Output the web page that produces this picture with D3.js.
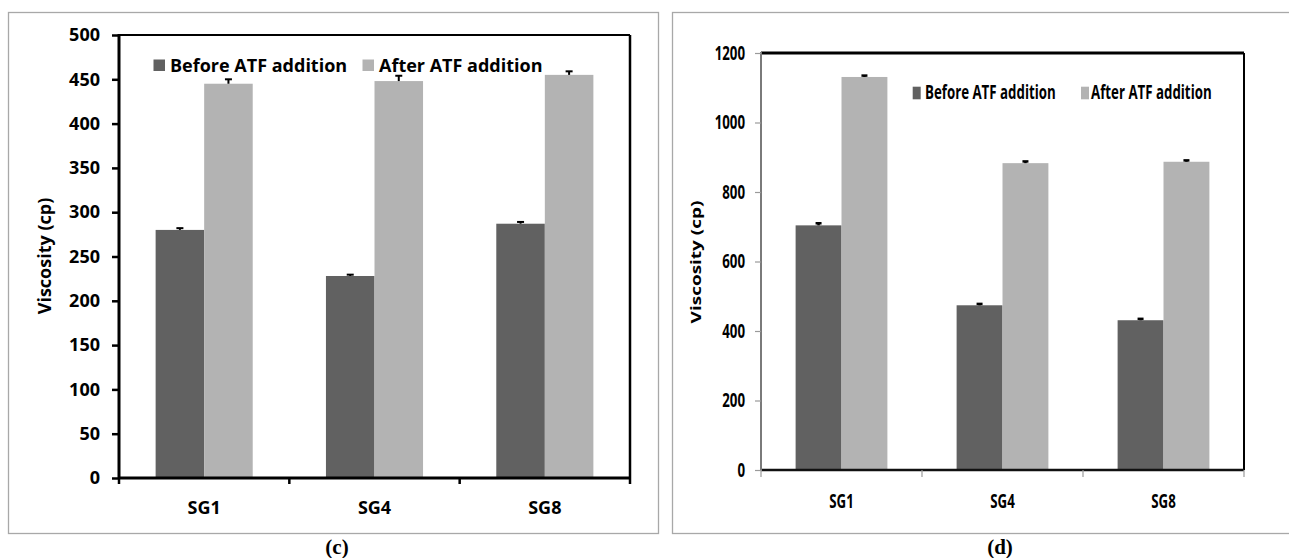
<!DOCTYPE html>
<html>
<head>
<meta charset="utf-8">
<script src="https://cdn.jsdelivr.net/npm/d3@7"></script>
<style>
  body { margin: 0; background: #fff; }
  svg { display: block; }
</style>
</head>
<body>
<svg id="fig" width="1289" height="558"></svg>
<script>
// Shared categories and series
const categories = ["SG1", "SG4", "SG8"];
const seriesNames = ["Before ATF addition", "After ATF addition"];
const seriesColors = ["#616161", "#b3b3b3"];

// Panel (c): viscosity in cp, with error margins
const beforeC = [280, 228, 287];
const afterC = [445, 448, 455];
const beforeErrC = [2, 1.5, 2];
const afterErrC = [5, 6, 4];
const ticksC = [0, 50, 100, 150, 200, 250, 300, 350, 400, 450, 500];

// Panel (d): viscosity in cp, with error margins
const beforeD = [704, 474, 431];
const afterD = [1131, 883, 887];
const beforeErrD = [6, 4, 4];
const afterErrD = [4, 5, 4];
const ticksD = [0, 200, 400, 600, 800, 1000, 1200];

const FONT = "'Open Sans', 'Noto Sans', sans-serif";
const svg = d3.select("#fig");

// Places a text element inside a group that can squeeze glyphs horizontally
function addText(parent, x, y, str, o) {
  const g = parent.append("g")
    .attr("transform", `translate(${x},${y}) scale(${o.sx || 1},1)` + (o.rotate ? ` rotate(${o.rotate})` : ""));
  return g.append("text")
    .attr("text-anchor", o.anchor || "start")
    .attr("dy", o.dy || 0)
    .attr("font-family", o.family || FONT)
    .attr("font-weight", o.weight || 700)
    .attr("font-size", o.size)
    .attr("fill", "#000")
    .text(str);
}

function drawPanel(p) {
  const g = svg.append("g");
  const sx = p.sx;

  // frame around the panel
  g.append("rect")
    .attr("x", p.frame[0]).attr("y", p.frame[1])
    .attr("width", p.frame[2]).attr("height", p.frame[3])
    .attr("fill", "none").attr("stroke", "#a8a8a8").attr("stroke-width", 1.3);

  const x = d3.scaleBand().domain(categories)
    .range([p.left, p.right]).paddingInner(p.pad).paddingOuter(p.pad / 2);
  const xs = d3.scaleBand().domain([0, 1]).range([0, x.bandwidth()]);
  const y = d3.scaleLinear().domain([0, p.max]).range([p.bottom, p.top]);

  const rows = categories.map((c, i) => ({
    c,
    vals: [p.before[i], p.after[i]],
    errs: [p.beforeErr[i], p.afterErr[i]]
  }));
  const marks = rows.flatMap(r => r.vals.map((v, k) => ({ c: r.c, k, v, e: r.errs[k] })));

  // bars
  g.append("g").selectAll("rect").data(marks).join("rect")
    .attr("x", d => x(d.c) + xs(d.k))
    .attr("y", d => y(d.v))
    .attr("width", xs.bandwidth())
    .attr("height", d => y(0) - y(d.v))
    .attr("fill", d => seriesColors[d.k]);

  // upper error bars
  const eb = g.append("g").attr("stroke", "#000").attr("stroke-width", p.errWidth);
  eb.selectAll("line.v").data(marks).join("line").attr("class", "v")
    .attr("x1", d => x(d.c) + xs(d.k) + xs.bandwidth() / 2)
    .attr("x2", d => x(d.c) + xs(d.k) + xs.bandwidth() / 2)
    .attr("y1", d => y(d.v)).attr("y2", d => y(d.v + d.e));
  eb.selectAll("line.cap").data(marks).join("line").attr("class", "cap")
    .attr("x1", d => x(d.c) + xs(d.k) + xs.bandwidth() / 2 - p.capW / 2)
    .attr("x2", d => x(d.c) + xs(d.k) + xs.bandwidth() / 2 + p.capW / 2)
    .attr("y1", d => y(d.v + d.e)).attr("y2", d => y(d.v + d.e));

  // plot-area border
  const line = (x1, y1, x2, y2, s) => g.append("line")
    .attr("x1", x1).attr("y1", y1).attr("x2", x2).attr("y2", y2)
    .attr("stroke", s.c).attr("stroke-width", s.w);
  line(p.left, p.top, p.right, p.top, p.border.top);
  line(p.right, p.top, p.right, p.bottom, p.border.right);
  line(p.left, p.bottom, p.right, p.bottom, p.border.bottom);
  line(p.left, p.top - 1, p.left, p.bottom + 1, p.border.left);

  // value axis
  const yAxis = g.append("g").attr("transform", `translate(${p.left},0)`)
    .call(d3.axisLeft(y).tickValues(p.ticks).tickSize(p.tickLen).tickPadding(p.labelGap - p.tickLen)
      .tickFormat(d3.format("d")));
  yAxis.select(".domain").remove();
  yAxis.selectAll(".tick line").attr("stroke", p.tickColor).attr("stroke-width", p.tickWidth);
  yAxis.selectAll(".tick text")
    .attr("font-family", FONT).attr("font-weight", 700).attr("font-size", p.fontSize)
    .attr("fill", "#000")
    .attr("x", -p.labelGap / sx)
    .attr("transform", `scale(${sx},1)`);

  // category boundary ticks
  const step = x.step();
  g.append("g").selectAll("line").data(d3.range(categories.length + 1)).join("line")
    .attr("x1", i => p.left + i * step).attr("x2", i => p.left + i * step)
    .attr("y1", p.bottom).attr("y2", p.bottom + p.xTickLen)
    .attr("stroke", p.tickColor).attr("stroke-width", p.tickWidth);

  // category labels
  const xAxis = g.append("g").attr("transform", `translate(0,${p.bottom})`)
    .call(d3.axisBottom(x).tickSize(0).tickPadding(0));
  xAxis.select(".domain").remove();
  xAxis.selectAll(".tick text")
    .attr("font-family", FONT).attr("font-weight", 700).attr("font-size", p.fontSize)
    .attr("fill", "#000")
    .attr("y", p.xLabelBase).attr("dy", 0)
    .attr("transform", `scale(${sx},1)`);

  // axis title
  addText(g, p.yTitle[0], p.yTitle[1], "Viscosity (cp)",
    { sx, rotate: -90, anchor: "middle", dy: "0.35em", size: p.titleSize });

  // legend
  seriesNames.forEach((name, k) => {
    const L = p.legend[k];
    g.append("rect").attr("x", L.sq[0]).attr("y", L.sq[1])
      .attr("width", L.sq[2]).attr("height", L.sq[3]).attr("fill", seriesColors[k]);
    addText(g, L.tx, p.legendBase, name, { sx, size: p.fontSize });
  });

  // panel caption
  addText(g, p.caption[0], p.caption[1], p.captionText,
    { anchor: "middle", size: 21, family: "'Liberation Serif', 'Times New Roman', serif" });
}

drawPanel({
  frame: [8.5, 12.5, 650, 521],
  left: 119, right: 630, top: 35, bottom: 478,
  max: 500, ticks: ticksC, pad: 0.43,
  before: beforeC, after: afterC, beforeErr: beforeErrC, afterErr: afterErrC,
  sx: 1, fontSize: 18, titleSize: 18,
  tickLen: 7, xTickLen: 6, labelGap: 19, tickColor: "#000", tickWidth: 2.5,
  border: {
    top: { c: "#000", w: 2.2 }, right: { c: "#000", w: 2.5 },
    bottom: { c: "#000", w: 3 }, left: { c: "#000", w: 3 }
  },
  errWidth: 2, capW: 7,
  xLabelBase: 35.5,
  yTitle: [45, 256],
  legend: [
    { sq: [153.5, 59.5, 11.5, 11.5], tx: 170 },
    { sq: [362.5, 59.5, 11.5, 11.5], tx: 379 }
  ],
  legendBase: 71.5,
  caption: [337, 554], captionText: "(c)"
});

drawPanel({
  frame: [672.5, 12.5, 630, 521],
  left: 761, right: 1244, top: 53, bottom: 470,
  max: 1200, ticks: ticksD, pad: 0.43,
  before: beforeD, after: afterD, beforeErr: beforeErrD, afterErr: afterErrD,
  sx: 0.7, fontSize: 19, titleSize: 19,
  tickLen: 6, xTickLen: 7, labelGap: 16, tickColor: "#9a9a9a", tickWidth: 1.2,
  border: {
    top: { c: "#000", w: 3 }, right: { c: "#000", w: 2 },
    bottom: { c: "#111", w: 2.5 }, left: { c: "#7a7a7a", w: 2 }
  },
  errWidth: 2.5, capW: 6,
  xLabelBase: 38.5,
  yTitle: [696, 262],
  legend: [
    { sq: [912.7, 86.7, 8, 12.6], tx: 925 },
    { sq: [1081, 86.7, 8, 12.6], tx: 1091 }
  ],
  legendBase: 99.3,
  caption: [1000, 554], captionText: "(d)"
});
</script>
</body>
</html>
